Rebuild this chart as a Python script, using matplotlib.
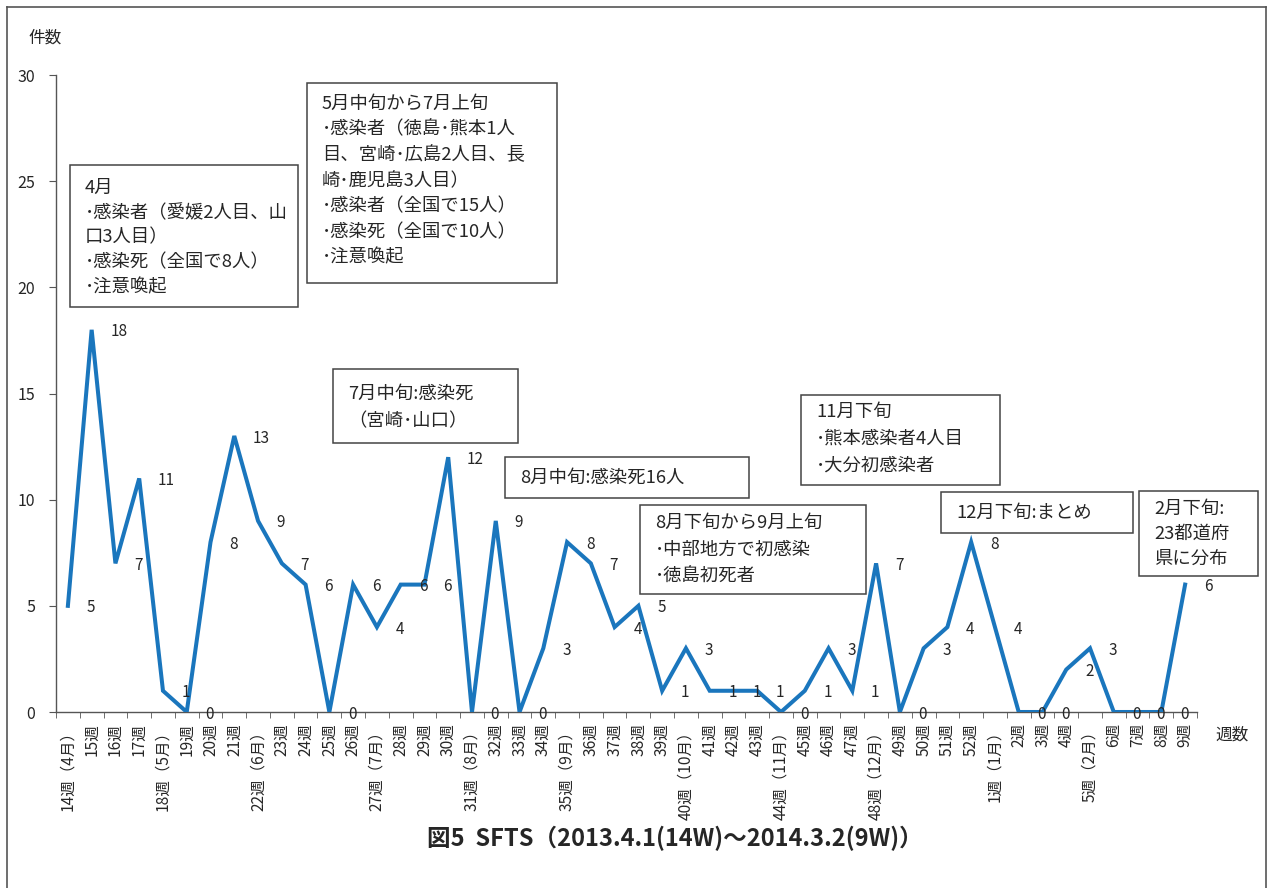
import matplotlib.pyplot as plt
from matplotlib.patches import Rectangle
from matplotlib.lines import Line2D
from matplotlib.ticker import FixedLocator

plt.rcParams['font.family'] = ['Noto Sans CJK JP', 'DejaVu Sans']

# weekly SFTS counts, 2013 week 14 to 2014 week 9
weeks = ['14週（4月）', '15週', '16週', '17週', '18週（5月）', '19週', '20週', '21週',
         '22週（6月）', '23週', '24週', '25週', '26週', '27週（7月）', '28週', '29週',
         '30週', '31週（8月）', '32週', '33週', '34週', '35週（9月）', '36週', '37週',
         '38週', '39週', '40週（10月）', '41週', '42週', '43週', '44週（11月）', '45週',
         '46週', '47週', '48週（12月）', '49週', '50週', '51週', '52週', '1週（1月）',
         '2週', '3週', '4週', '5週（2月）', '6週', '7週', '8週', '9週']
counts = [5, 18, 7, 11, 1, 0, 8, 13, 9, 7, 6, 0, 6, 4, 6, 6,
          12, 0, 9, 0, 3, 8, 7, 4, 5, 1, 3, 1, 1, 1, 0, 1,
          3, 1, 7, 0, 3, 4, 8, 4, 0, 0, 2, 3, 0, 0, 0, 6]
yticks = [0, 5, 10, 15, 20, 25, 30]

notes = [
    ['4月', '･感染者（愛媛2人目、山', '口3人目）', '･感染死（全国で8人）', '･注意喚起'],
    ['5月中旬から7月上旬', '･感染者（徳島･熊本1人', '目、宮崎･広島2人目、長',
     '崎･鹿児島3人目）', '･感染者（全国で15人）', '･感染死（全国で10人）', '･注意喚起'],
    ['7月中旬:感染死', '（宮崎･山口）'],
    ['8月中旬:感染死16人'],
    ['8月下旬から9月上旬', '･中部地方で初感染', '･徳島初死者'],
    ['11月下旬', '･熊本感染者4人目', '･大分初感染者'],
    ['12月下旬:まとめ'],
    ['2月下旬:', '23都道府', '県に分布'],
]

W, H = 1269, 888
# box frames in pixels: left, top, right, bottom, first text line y, line step
note_boxes = [
    (70, 165, 298, 307, 188, 24.8),
    (307, 83, 557, 283, 104, 25.6),
    (333, 369, 518, 443, 394, 27),
    (505, 457, 749, 498, 478, 0),
    (640, 505, 866, 594, 523, 27),
    (801, 395, 1000, 485, 412, 27),
    (941, 492, 1133, 533, 513, 0),
    (1139, 491, 1258, 576, 509, 25),
]

ink = '#262626'
blue = '#1a76bd'

fig = plt.figure(figsize=(W / 100, H / 100), dpi=100)
ax = fig.add_axes([56 / W, 1 - 712 / H, (1197 - 56) / W, (712 - 75) / H])

x = list(range(len(weeks)))
ax.plot(x, counts, color=blue, lw=2.9, solid_joinstyle='miter', zorder=3)
for xi, v in zip(x, counts):
    ax.annotate(str(v), (xi, v), xytext=(13.5, -1.5), textcoords='offset points',
                ha='left', va='center', fontsize=11, color=ink, zorder=4)

ax.set_xlim(-0.5, len(weeks) - 0.5)
ax.set_ylim(0, 30)
ax.set_yticks(yticks)
ax.set_xticks(x)
ax.set_xticklabels(weeks, rotation=90, va='top', ha='center', fontsize=11.2, color=ink)
ax.xaxis.set_minor_locator(FixedLocator([i - 0.5 for i in range(len(weeks) + 1)]))
ax.tick_params(axis='x', which='major', length=0, pad=8)
ax.tick_params(axis='x', which='minor', length=4, color='#555555', direction='out')
ax.tick_params(axis='y', length=5, color='#555555', labelsize=11.5, labelcolor=ink, pad=10)
for s in ['top', 'right']:
    ax.spines[s].set_visible(False)
for s in ['left', 'bottom']:
    ax.spines[s].set_color('#555555')
    ax.spines[s].set_linewidth(1)

fig.text(28 / W, 1 - 38 / H, '件数', ha='left', va='center', fontsize=12, color=ink)
fig.text(1215 / W, 1 - 735 / H, '週数', ha='left', va='center', fontsize=12, color=ink)
fig.text(675 / W, 1 - 838 / H, '図5  SFTS（2013.4.1(14W)～2014.3.2(9W)）',
         ha='center', va='center', fontsize=17, fontweight='bold', color=ink)

# note boxes
for lines, (x0, y0, x1, y1, ty, step) in zip(notes, note_boxes):
    fig.add_artist(Rectangle((x0 / W, 1 - y1 / H), (x1 - x0) / W, (y1 - y0) / H,
                             transform=fig.transFigure, facecolor='white',
                             edgecolor='#444444', lw=1.1, zorder=5))
    for k, line in enumerate(lines):
        fig.text((x0 + 15) / W, 1 - (ty + k * step) / H, line, ha='left', va='center',
                 fontsize=13.2, color=ink, zorder=6)

# outer frame
for xs, ys in [([7, 7], [7, H + 5]), ([7, 1266], [7, 7]), ([1266, 1266], [7, H + 5])]:
    fig.add_artist(Line2D([v / W for v in xs], [1 - v / H for v in ys],
                          transform=fig.transFigure, color='#555555', lw=1.2))

fig.savefig('out.png', dpi=100, facecolor='white')
